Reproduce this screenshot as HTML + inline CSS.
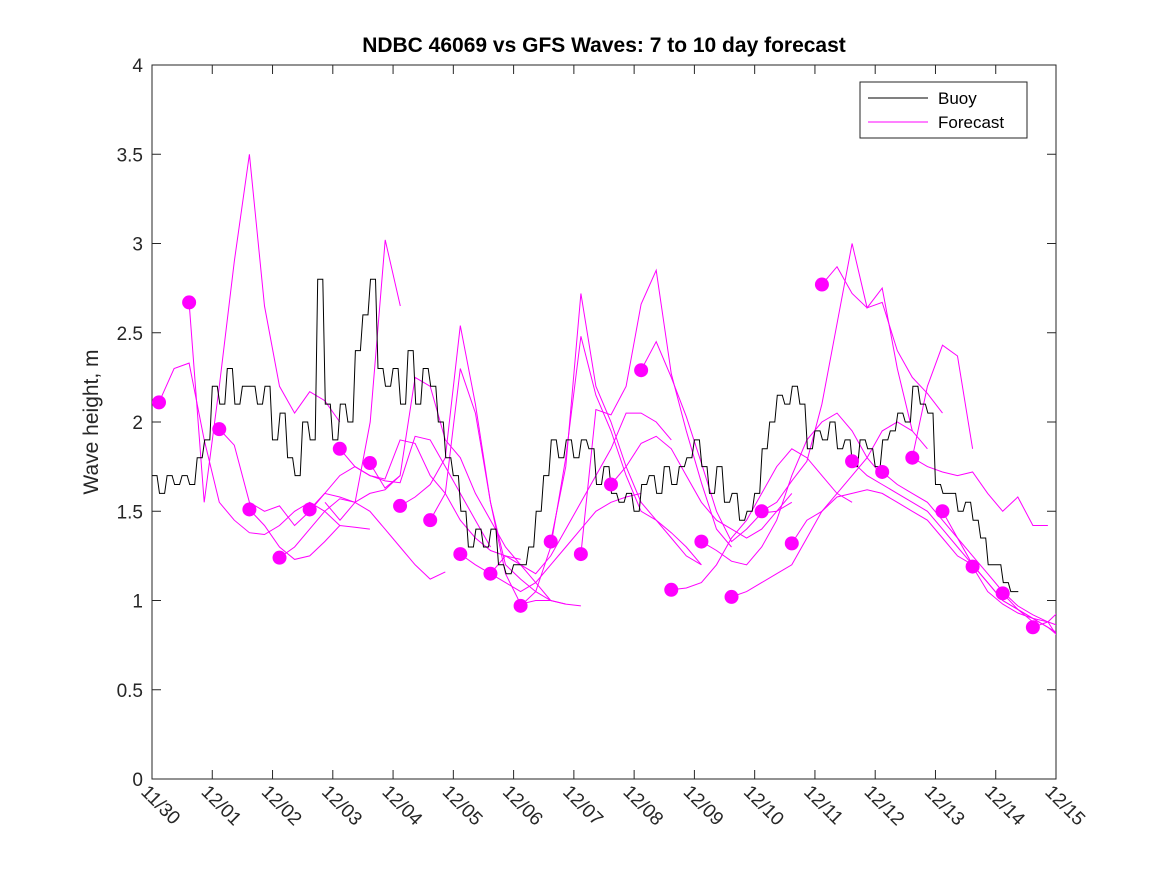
<!DOCTYPE html>
<html><head><meta charset="utf-8"><style>
body{margin:0;background:#fff;}
svg{font-family:"Liberation Sans",sans-serif;}
</style></head><body>
<svg id="chart" width="1167" height="875" viewBox="0 0 1167 875" xmlns="http://www.w3.org/2000/svg">
<defs><clipPath id="clip"><rect x="152" y="65" width="904" height="714"/></clipPath></defs>
<rect width="1167" height="875" fill="#fff"/>
<text x="604" y="52" text-anchor="middle" font-size="21" font-weight="bold" fill="#000">NDBC 46069 vs GFS Waves: 7 to 10 day forecast</text>
<text transform="translate(98,422) rotate(-90)" text-anchor="middle" font-size="21" fill="#262626">Wave height, m</text>
<g id="axes"></g>
<g id="fc" clip-path="url(#clip)"></g>
<g id="buoy" clip-path="url(#clip)"></g>
<g id="dots"></g>
<g>
<rect x="860" y="82" width="167" height="56" fill="#fff" stroke="#262626" stroke-width="1"/>
<line x1="868" y1="98" x2="928" y2="98" stroke="#000" stroke-width="1"/>
<text x="938" y="104" font-size="17" fill="#000">Buoy</text>
<line x1="868" y1="122" x2="928" y2="122" stroke="#ff00ff" stroke-width="1"/>
<text x="938" y="128" font-size="17" fill="#000">Forecast</text>
</g>
</svg>
<script>
const xTickLabels=["11/30","12/01","12/02","12/03","12/04","12/05","12/06","12/07","12/08","12/09","12/10","12/11","12/12","12/13","12/14","12/15"];
const yTickLabels=["0","0.5","1","1.5","2","2.5","3","3.5","4"];
const yTickValues=[0,0.5,1,1.5,2,2.5,3,3.5,4];
const buoyStep=0.125;
const buoyValues=[1.7,1.6,1.7,1.65,1.7,1.65,1.8,1.9,2.2,2.1,2.3,2.1,2.2,2.2,2.1,2.2,1.9,2.05,1.8,1.7,2.0,1.9,2.8,2.1,1.9,2.1,2.0,2.4,2.6,2.8,2.3,2.2,2.3,2.1,2.4,2.1,2.3,2.2,2.0,1.8,1.7,1.5,1.3,1.4,1.3,1.4,1.2,1.15,1.2,1.2,1.3,1.5,1.7,1.9,1.8,1.9,1.8,1.9,1.85,1.65,1.75,1.6,1.55,1.6,1.5,1.65,1.7,1.6,1.75,1.65,1.75,1.8,1.9,1.75,1.6,1.75,1.55,1.6,1.45,1.5,1.6,1.85,2.0,2.15,2.1,2.2,2.1,1.85,1.95,1.9,2.0,1.85,1.9,1.75,1.9,1.85,1.75,1.9,1.95,2.05,2.0,2.2,2.1,2.05,1.65,1.6,1.6,1.5,1.55,1.45,1.35,1.2,1.2,1.1,1.05,1.05];
const dotValues=[2.11,2.67,1.96,1.51,1.24,1.51,1.85,1.77,1.53,1.45,1.26,1.15,0.97,1.33,1.26,1.65,2.29,1.06,1.33,1.02,1.50,1.32,2.77,1.78,1.72,1.80,1.50,1.19,1.04,0.85];
const dotStart=0.116, dotStep=0.5, fcStep=0.25;
const fcStarts=[0.116,0.616,1.116,1.616,2.116,2.616,3.116,3.616,4.116,4.616,5.116,5.616,6.116,6.616,7.116,7.616,8.116,8.616,9.116,9.616,10.116,10.616,11.116,11.616,12.116,12.616,13.116,13.616,14.116,2.87,12.616,14.616];
const fc0=[2.11,2.30,2.33,1.9,1.55,1.45,1.38,1.37,1.42,1.50,1.55,1.50,1.42];
const fc1=[2.67,1.55,2.2,2.9,3.5,2.65,2.2,2.05,2.17,2.12,2.0];
const fc2=[1.96,1.87,1.55,1.5,1.53,1.42,1.5,1.6,1.58,1.55,1.6,1.62,1.7];
const fc3=[1.51,1.42,1.3,1.23,1.25,1.33,1.42,1.41,1.40];
const fc4=[1.24,1.3,1.4,1.5,1.57,1.55,1.5,1.4,1.3,1.2,1.12,1.16];
const fc5=[1.51,1.6,1.7,1.75,1.7,1.67,1.66,1.92,1.9,1.75,1.6,1.45,1.3];
const fc6=[1.85,1.75,1.7,1.68,1.9,1.88,1.7,1.6,1.45,1.35,1.28,1.25,1.23];
const fc7=[1.77,1.63,1.7,2.25,2.2,1.9,1.8,1.6,1.45,1.3,1.2,1.1,1.0];
const fc8=[1.53,1.58,1.65,1.8,2.54,2.1,1.55,1.15,0.98,1.0,1.0,0.98];
const fc9=[1.45,1.6,2.3,2.05,1.55,1.2,1.12,1.05,1.0,0.98,0.97];
const fc10=[1.26,1.2,1.15,1.1,1.05,1.1,1.2,1.3,1.4,1.5,1.55,1.58,1.6];
const fc11=[1.15,1.25,1.2,1.15,1.25,1.4,1.55,1.7,1.85,2.05,2.05,2.0,1.9];
const fc12=[0.97,1.05,1.3,1.8,2.48,2.15,1.95,1.7,1.5,1.45,1.38,1.3,1.2];
const fc13=[1.33,1.75,2.72,2.2,2.0,1.75,1.55,1.45,1.35,1.25,1.2];
const fc14=[1.26,2.07,2.04,2.2,2.66,2.85,2.27,1.95,1.66,1.4,1.3];
const fc15=[1.65,1.75,1.88,1.92,1.85,1.7,1.55,1.45,1.4,1.35,1.4,1.5,1.6];
const fc16=[2.29,2.45,2.25,2.03,1.77,1.5,1.33,1.4,1.49,1.5,1.55];
const fc17=[1.06,1.07,1.1,1.2,1.35,1.45,1.6,1.75,1.85,1.8,1.7,1.6,1.55];
const fc18=[1.33,1.28,1.22,1.2,1.3,1.45,1.7,1.9,2.0,2.05,1.95,1.8,1.7];
const fc19=[1.02,1.05,1.1,1.15,1.2,1.35,1.5,1.6,1.7,1.8,1.95,2.0,1.95];
const fc20=[1.5,1.55,1.67,1.78,2.1,2.55,3.0,2.64,2.75,2.3,1.95,1.85];
const fc21=[1.32,1.45,1.5,1.58,1.6,1.62,1.6,1.55,1.5,1.45,1.35,1.25,1.2];
const fc22=[2.77,2.87,2.72,2.64,2.67,2.4,2.25,2.16,2.05];
const fc23=[1.78,1.7,1.65,1.6,1.55,1.5,1.4,1.3,1.2,1.1,1.0,0.95,0.88];
const fc24=[1.72,1.65,1.6,1.55,1.45,1.35,1.25,1.15,1.05,0.97,0.92,0.88,0.85];
const fc25=[1.8,2.2,2.43,2.37,1.85];
const fc26=[1.5,1.35,1.2,1.1,1.0,0.95,0.9,0.85,0.78];
const fc27=[1.19,1.05,0.98,0.93,0.9,0.85,0.8];
const fc28=[1.04,0.95,0.9,0.88,0.75];
const fc29=[1.55,1.45,1.55,2.0,3.02,2.65];
const fc30=[1.8,1.75,1.72,1.7,1.72,1.6,1.5,1.58,1.42,1.42];
const fc31=[0.85,0.88,0.96];
const fcSeries=[fc0,fc1,fc2,fc3,fc4,fc5,fc6,fc7,fc8,fc9,fc10,fc11,fc12,fc13,fc14,fc15,fc16,fc17,fc18,fc19,fc20,fc21,fc22,fc23,fc24,fc25,fc26,fc27,fc28,fc29,fc30,fc31];

const NS="http://www.w3.org/2000/svg";
const X0=152,X1=1056,Y0=779,Y1=65;
function xs(d){return X0+d*(X1-X0)/15;}
function ys(v){return Y0-v*(Y0-Y1)/4;}
function mk(tag,parent){const e=document.createElementNS(NS,tag);parent.appendChild(e);return e;}

const axes=document.getElementById('axes');
const box=mk('rect',axes);
box.setAttribute('x',X0);box.setAttribute('y',Y1);box.setAttribute('width',X1-X0);box.setAttribute('height',Y0-Y1);
box.setAttribute('fill','none');box.setAttribute('stroke','#262626');


yTickValues.forEach((v,i)=>{
  const y=ys(v);
  [[X0,X0+9],[X1,X1-9]].forEach(p=>{
    const l=mk('line',axes);
    l.setAttribute('x1',p[0]);l.setAttribute('x2',p[1]);l.setAttribute('y1',y);l.setAttribute('y2',y);l.setAttribute('stroke','#262626');
    
    
  });
  const t=mk('text',axes);
  t.setAttribute('x',X0-9);t.setAttribute('y',y+7);t.setAttribute('text-anchor','end');t.setAttribute('font-size','19');t.setAttribute('fill','#262626');
  t.textContent=yTickLabels[i];
  
  
});
xTickLabels.forEach((lab,i)=>{
  const x=xs(i);
  [[Y0,Y0-9],[Y1,Y1+9]].forEach(p=>{
    const l=mk('line',axes);
    l.setAttribute('x1',x);l.setAttribute('x2',x);l.setAttribute('y1',p[0]);l.setAttribute('y2',p[1]);l.setAttribute('stroke','#262626');
    
    
  });
  const t=mk('text',axes);
  t.setAttribute('transform','translate('+(x-12)+','+(Y0+14)+') rotate(45)');
  t.setAttribute('font-size','19');t.setAttribute('fill','#262626');
  t.textContent=lab;
  
  
});

const fcG=document.getElementById('fc');
fcSeries.forEach((vals,k)=>{
  const pts=vals.map((v,j)=>xs(fcStarts[k]+j*fcStep).toFixed(1)+','+ys(v).toFixed(1)).join(' ');
  const p=mk('polyline',fcG);
  p.setAttribute('points',pts);p.setAttribute('fill','none');p.setAttribute('stroke','#ff00ff');p.setAttribute('stroke-width','1');
  
  
});

const bG=document.getElementById('buoy');
let bp=[];
buoyValues.forEach((v,i)=>{
  const x=xs(i*buoyStep),y=ys(v);
  if(i>0){bp.push((x-2.5).toFixed(1)+','+ys(buoyValues[i-1]).toFixed(1));}
  bp.push(x.toFixed(1)+','+y.toFixed(1));
});
const bl=mk('polyline',bG);
bl.setAttribute('points',bp.join(' '));bl.setAttribute('fill','none');bl.setAttribute('stroke','#000');bl.setAttribute('stroke-width','1');



const dG=document.getElementById('dots');
dotValues.forEach((v,i)=>{
  const c=mk('circle',dG);
  c.setAttribute('cx',xs(dotStart+i*dotStep));c.setAttribute('cy',ys(v));c.setAttribute('r','7');c.setAttribute('fill','#ff00ff');
  
  
});
</script>
</body></html>
